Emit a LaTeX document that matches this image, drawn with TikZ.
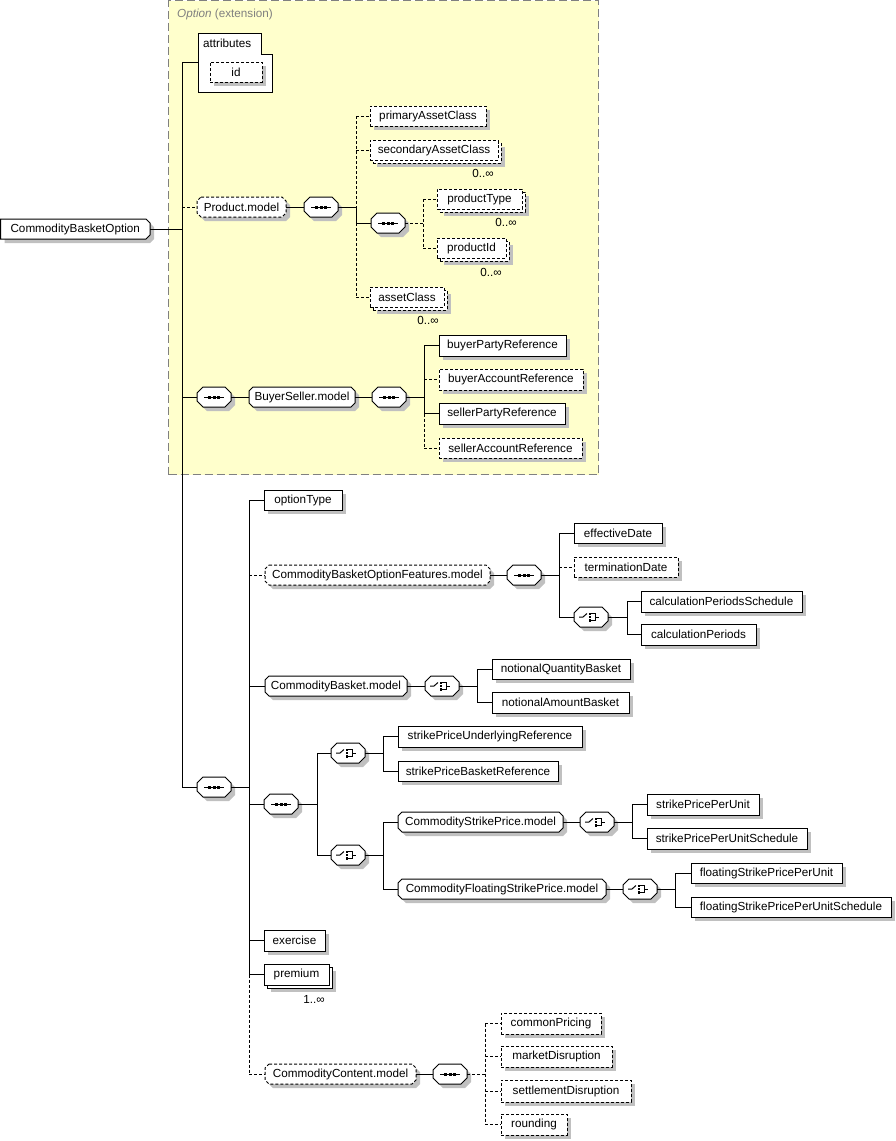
\documentclass[tikz,border=0pt]{standalone}
\usepackage{fontspec}
\setmainfont{Liberation Sans}
\usetikzlibrary{shadows}
\definecolor{optfill}{RGB}{255,255,204}
\definecolor{optline}{RGB}{128,128,128}
\definecolor{shadowc}{RGB}{192,192,192}
\newcommand\fsz{\fontsize{11.7}{14}\selectfont}
\tikzset{
  box/.style={draw, fill=white, line width=1pt, inner sep=1pt, outer sep=0pt, font=\fsz, anchor=north west},
  elem/.style={box, drop shadow={shadow xshift=4pt, shadow yshift=-4pt, fill=shadowc, opacity=1}},
  opt/.style={dash pattern=on 3pt off 2pt},
  hole/.style={draw=none, fill=none, inner sep=1pt, outer sep=0pt, font=\fsz, anchor=north west},
  shapeline/.style={draw, fill=white, line width=1pt},
  shadowfill/.style={fill=shadowc, xshift=4pt, yshift=-4pt},
  conn/.style={line width=1pt},
  dconn/.style={line width=1pt, dash pattern=on 3pt off 2pt},
  icon/.style={line width=1pt},
  card/.style={font=\fsz, inner sep=0pt},
}
% octagon path: x, y(top), w, h, chamfer
\newcommand\octp[5]{(#1+#5,#2) -- (#1+#3-#5,#2) -- (#1+#3,#2+#5) -- (#1+#3,#2+#4-#5) -- (#1+#3-#5,#2+#4) -- (#1+#5,#2+#4) -- (#1,#2+#4-#5) -- (#1,#2+#5) -- cycle}
% element: [style] name x y w h text
\newcommand\elm[7][]{\node[elem,#1,minimum width=#5pt,minimum height=#6pt] (#2) at (#3,#4) {#7};}
% repeated element
\newcommand\mel[7][]{%
  \node[elem,#1,minimum width=#5pt,minimum height=#6pt] (#2back) at (#3+3,#4+3) {};
  \node[box,#1,minimum width=#5pt,minimum height=#6pt] (#2) at (#3,#4) {#7};}
% group reference
\newcommand\grpref[7][]{%
  \fill[shadowfill] \octp{#3}{#4}{#5}{#6}{4};
  \draw[shapeline,#1] \octp{#3}{#4}{#5}{#6}{4};
  \node[hole,minimum width=#5pt,minimum height=#6pt] (#2) at (#3,#4) {#7};}
% icons
\newcommand\seqicon[1]{%
  \draw[icon] ([xshift=-10pt]#1.center) -- ([xshift=10pt]#1.center);
  \foreach \dd in {-6,-1.5,3}{\fill ([xshift=\dd pt,yshift=-1.5pt]#1.center) rectangle ++(3pt,3pt);}}
\newcommand\choiceicon[1]{%
  \draw[icon] ([xshift=-12pt]#1.center) -- ([xshift=-8pt]#1.center) -- ([xshift=-4pt,yshift=3.5pt]#1.center);
  \foreach \dd in {1.9,-1.3,-4.5}{\fill ([xshift=-2.4pt,yshift=\dd pt]#1.center) rectangle ++(2.6pt,2.6pt);}
  \draw[icon] ([xshift=0.2pt,yshift=3.2pt]#1.center) -- ([xshift=4.5pt,yshift=3.2pt]#1.center) -- ([xshift=4.5pt,yshift=-3.2pt]#1.center) -- ([xshift=0.2pt,yshift=-3.2pt]#1.center);
  \draw[icon] ([xshift=4.5pt]#1.center) -- ([xshift=8pt]#1.center);}
% compositor: name x y kind
\newcommand\compo[4]{%
  \fill[shadowfill] \octp{#2}{#3}{34}{20}{6};
  \draw[shapeline] \octp{#2}{#3}{34}{20}{6};
  \node[hole,minimum width=34pt,minimum height=20pt] (#1) at (#2,#3) {};
  \csname #4icon\endcsname{#1}}

\begin{document}
\begin{tikzpicture}[x=1pt,y=-1pt]
\useasboundingbox (0,0) rectangle (896,1141);

% extension region
\node[draw=optline, fill=optfill, line width=1pt, dash pattern=on 8pt off 4pt, minimum width=430pt, minimum height=474pt, anchor=north west, inner sep=0pt, outer sep=0pt] (optregion) at (168.5,0.5) {};
\node[anchor=west, inner sep=0pt, text=optline, font=\fsz] (optlabel) at (177,14) {\textit{Option} (extension)};

% root element
\fill[shadowfill] (0.5,219) -- (146,219) -- (150,223) -- (150,235) -- (146,239) -- (0.5,239) -- cycle;
\draw[shapeline] (0.5,219) -- (146,219) -- (150,223) -- (150,235) -- (146,239) -- (0.5,239) -- cycle;
\node[hole, minimum width=149.5pt, minimum height=20pt] (cbo) at (0.5,219) {CommodityBasketOption};

% attributes
\draw[shapeline] (198,33) -- (261,33) -- (261,54) -- (272,54) -- (272,92) -- (198,92) -- cycle;
\node[hole, minimum width=74pt, minimum height=58pt] (attr) at (198,33) {};
\node[anchor=west, inner sep=0pt, font=\fsz] (attrlabel) at (203,43) {attributes};
\elm[opt]{id}{210}{62}{52}{20}{id}

% Product.model
\grpref[opt]{productModel}{197}{197}{89}{20}{Product.model}
\compo{seqP}{304}{197}{seq}
\elm[opt]{primary}{370}{106}{116}{20}{primaryAssetClass}
\mel[opt]{secondary}{370}{140}{128}{20}{secondaryAssetClass}
\node[card] (card1) at (483,173) {0..∞};
\compo{seqI}{371}{213}{seq}
\mel[opt]{productType}{437}{189}{85}{20}{productType}
\node[card] (card2) at (506,222) {0..∞};
\mel[opt]{productId}{437}{238}{69}{20}{productId}
\node[card] (card3) at (491,272) {0..∞};
\mel[opt]{assetClass}{370}{287}{74}{20}{assetClass}
\node[card] (card4) at (428,320) {0..∞};

% BuyerSeller.model
\compo{seqBS1}{197}{387}{seq}
\grpref{bsModel}{249}{387}{106}{20}{BuyerSeller.model}
\compo{seqBS2}{372}{387}{seq}
\elm{buyerParty}{439}{335}{127}{21}{buyerPartyReference}
\elm[opt]{buyerAccount}{439}{369}{144}{21}{buyerAccountReference}
\elm{sellerParty}{439}{403}{126}{21}{sellerPartyReference}
\elm[opt]{sellerAccount}{439}{438}{143}{20}{sellerAccountReference}

% main sequence
\compo{seqMain}{197}{777}{seq}
\elm{optionType}{264}{490}{78}{20}{optionType}

\grpref[opt]{cbofModel}{265}{565}{225}{20}{CommodityBasketOptionFeatures.model}
\compo{seqF}{507}{565}{seq}
\elm{effectiveDate}{574}{523}{88}{20}{effectiveDate}
\elm[opt]{terminationDate}{574}{557}{104}{20}{terminationDate}
\compo{choiceF}{574}{607}{choice}
\elm{cps}{641}{591}{161}{21}{calculationPeriodsSchedule}
\elm{cp}{641}{624}{115}{21}{calculationPeriods}

\grpref{cbModel}{265}{676}{142}{20}{CommodityBasket.model}
\compo{choiceCB}{425}{676}{choice}
\elm{nqb}{492}{659}{138}{20}{notionalQuantityBasket}
\elm{nab}{492}{692}{137}{21}{notionalAmountBasket}

\compo{seq2}{264}{794}{seq}
\compo{choiceA}{331}{743}{choice}
\elm{spur}{398}{726}{184}{21}{strikePriceUnderlyingReference}
\elm{spbr}{398}{761}{160}{20}{strikePriceBasketReference}
\compo{choiceB}{331}{845}{choice}
\grpref{cspModel}{398}{812}{165}{20}{CommodityStrikePrice.model}
\compo{choiceCSP}{580}{812}{choice}
\elm{sppu}{647}{794}{112}{21}{strikePricePerUnit}
\elm{sppus}{647}{828}{160}{21}{strikePricePerUnitSchedule}
\grpref{cfspModel}{398}{879}{208}{20}{CommodityFloatingStrikePrice.model}
\compo{choiceCFSP}{623}{879}{choice}
\elm{fsppu}{691}{863}{151}{20}{floatingStrikePricePerUnit}
\elm{fsppus}{691}{897}{200}{20}{floatingStrikePricePerUnitSchedule}

\elm{exercise}{264}{930}{61}{21}{exercise}
\mel{premium}{264}{964}{65}{21}{premium}
\node[card] (card5) at (314,999) {1..∞};

\grpref[opt]{ccModel}{265}{1064}{151}{20}{CommodityContent.model}
\compo{seqCC}{433}{1064}{seq}
\elm[opt]{commonPricing}{501}{1013}{100}{21}{commonPricing}
\elm[opt]{marketDisruption}{501}{1046}{111}{21}{marketDisruption}
\elm[opt]{settlementDisruption}{501}{1080}{130}{22}{settlementDisruption}
\elm[opt]{rounding}{501}{1114}{66}{21}{rounding}

% junction columns
\coordinate (t1) at (182,0);
\coordinate (t2) at (249,0);
\coordinate (vP) at (356,0);
\coordinate (vI) at (423,0);
\coordinate (vBS) at (424,0);
\coordinate (vF) at (559,0);
\coordinate (vCF) at (627,0);
\coordinate (vCB) at (477,0);
\coordinate (v2) at (317,0);
\coordinate (vA) at (383,0);
\coordinate (vCSP) at (632,0);
\coordinate (vCFSP) at (675,0);
\coordinate (vCC) at (485,0);

% trunk 1
\draw[conn] (t1 |- attr.west) -- (t1 |- seqMain.west);
\draw[conn] (t1 |- attr.west) -- (attr.west);
\draw[dconn] (t1 |- productModel.west) -- (productModel.west);
\draw[conn] (cbo.east) -- (cbo.east -| t1);
\draw[conn] (t1 |- seqBS1.west) -- (seqBS1.west);
\draw[conn] (t1 |- seqMain.west) -- (seqMain.west);

% Product.model
\draw[conn] (productModel.east) -- (seqP.west);
\draw[conn] (seqP.east) -- (seqP.east -| vP);
\draw[dconn] (vP |- primary.west) -- (vP |- seqP.east);
\draw[conn] (vP |- seqP.east) -- (vP |- seqI.west);
\draw[dconn] (vP |- seqI.west) -- (vP |- assetClass.west);
\draw[dconn] (vP |- primary.west) -- (primary.west);
\draw[dconn] (vP |- secondary.west) -- (secondary.west);
\draw[conn] (vP |- seqI.west) -- (seqI.west);
\draw[dconn] (vP |- assetClass.west) -- (assetClass.west);
\draw[dconn] (seqI.east) -- (seqI.east -| vI);
\draw[dconn] (vI |- productType.west) -- (vI |- productId.west);
\draw[dconn] (vI |- productType.west) -- (productType.west);
\draw[dconn] (vI |- productId.west) -- (productId.west);

% BuyerSeller.model
\draw[conn] (seqBS1.east) -- (bsModel.west);
\draw[conn] (bsModel.east) -- (seqBS2.west);
\draw[conn] (seqBS2.east) -- (seqBS2.east -| vBS);
\draw[conn] (vBS |- buyerParty.west) -- (vBS |- sellerParty.west);
\draw[dconn] (vBS |- sellerParty.west) -- (vBS |- sellerAccount.west);
\draw[conn] (vBS |- buyerParty.west) -- (buyerParty.west);
\draw[dconn] (vBS |- buyerAccount.west) -- (buyerAccount.west);
\draw[conn] (vBS |- sellerParty.west) -- (sellerParty.west);
\draw[dconn] (vBS |- sellerAccount.west) -- (sellerAccount.west);

% trunk 2
\draw[conn] (seqMain.east) -- (seqMain.east -| t2);
\draw[conn] (t2 |- optionType.west) -- (t2 |- premium.west);
\draw[dconn] (t2 |- premium.west) -- (t2 |- ccModel.west);
\draw[conn] (t2 |- optionType.west) -- (optionType.west);
\draw[dconn] (t2 |- cbofModel.west) -- (cbofModel.west);
\draw[conn] (t2 |- cbModel.west) -- (cbModel.west);
\draw[conn] (t2 |- seq2.west) -- (seq2.west);
\draw[conn] (t2 |- exercise.west) -- (exercise.west);
\draw[conn] (t2 |- premium.west) -- (premium.west);
\draw[dconn] (t2 |- ccModel.west) -- (ccModel.west);

% features
\draw[conn] (cbofModel.east) -- (seqF.west);
\draw[conn] (seqF.east) -- (seqF.east -| vF);
\draw[conn] (vF |- effectiveDate.west) -- (vF |- choiceF.west);
\draw[conn] (vF |- effectiveDate.west) -- (effectiveDate.west);
\draw[dconn] (vF |- terminationDate.west) -- (terminationDate.west);
\draw[conn] (vF |- choiceF.west) -- (choiceF.west);
\draw[conn] (choiceF.east) -- (choiceF.east -| vCF);
\draw[conn] (vCF |- cps.west) -- (vCF |- cp.west);
\draw[conn] (vCF |- cps.west) -- (cps.west);
\draw[conn] (vCF |- cp.west) -- (cp.west);

% basket
\draw[conn] (cbModel.east) -- (choiceCB.west);
\draw[conn] (choiceCB.east) -- (choiceCB.east -| vCB);
\draw[conn] (vCB |- nqb.west) -- (vCB |- nab.west);
\draw[conn] (vCB |- nqb.west) -- (nqb.west);
\draw[conn] (vCB |- nab.west) -- (nab.west);

% strike
\draw[conn] (seq2.east) -- (seq2.east -| v2);
\draw[conn] (v2 |- choiceA.west) -- (v2 |- choiceB.west);
\draw[conn] (v2 |- choiceA.west) -- (choiceA.west);
\draw[conn] (v2 |- choiceB.west) -- (choiceB.west);
\draw[conn] (choiceA.east) -- (choiceA.east -| vA);
\draw[conn] (vA |- spur.west) -- (vA |- spbr.west);
\draw[conn] (vA |- spur.west) -- (spur.west);
\draw[conn] (vA |- spbr.west) -- (spbr.west);
\draw[conn] (choiceB.east) -- (choiceB.east -| vA);
\draw[conn] (vA |- cspModel.west) -- (vA |- cfspModel.west);
\draw[conn] (vA |- cspModel.west) -- (cspModel.west);
\draw[conn] (vA |- cfspModel.west) -- (cfspModel.west);
\draw[conn] (cspModel.east) -- (choiceCSP.west);
\draw[conn] (choiceCSP.east) -- (choiceCSP.east -| vCSP);
\draw[conn] (vCSP |- sppu.west) -- (vCSP |- sppus.west);
\draw[conn] (vCSP |- sppu.west) -- (sppu.west);
\draw[conn] (vCSP |- sppus.west) -- (sppus.west);
\draw[conn] (cfspModel.east) -- (choiceCFSP.west);
\draw[conn] (choiceCFSP.east) -- (choiceCFSP.east -| vCFSP);
\draw[conn] (vCFSP |- fsppu.west) -- (vCFSP |- fsppus.west);
\draw[conn] (vCFSP |- fsppu.west) -- (fsppu.west);
\draw[conn] (vCFSP |- fsppus.west) -- (fsppus.west);

% content
\draw[conn] (ccModel.east) -- (seqCC.west);
\draw[dconn] (seqCC.east) -- (seqCC.east -| vCC);
\draw[dconn] (vCC |- commonPricing.west) -- (vCC |- rounding.west);
\draw[dconn] (vCC |- commonPricing.west) -- (commonPricing.west);
\draw[dconn] (vCC |- marketDisruption.west) -- (marketDisruption.west);
\draw[dconn] (vCC |- settlementDisruption.west) -- (settlementDisruption.west);
\draw[dconn] (vCC |- rounding.west) -- (rounding.west);
\end{tikzpicture}
\end{document}
